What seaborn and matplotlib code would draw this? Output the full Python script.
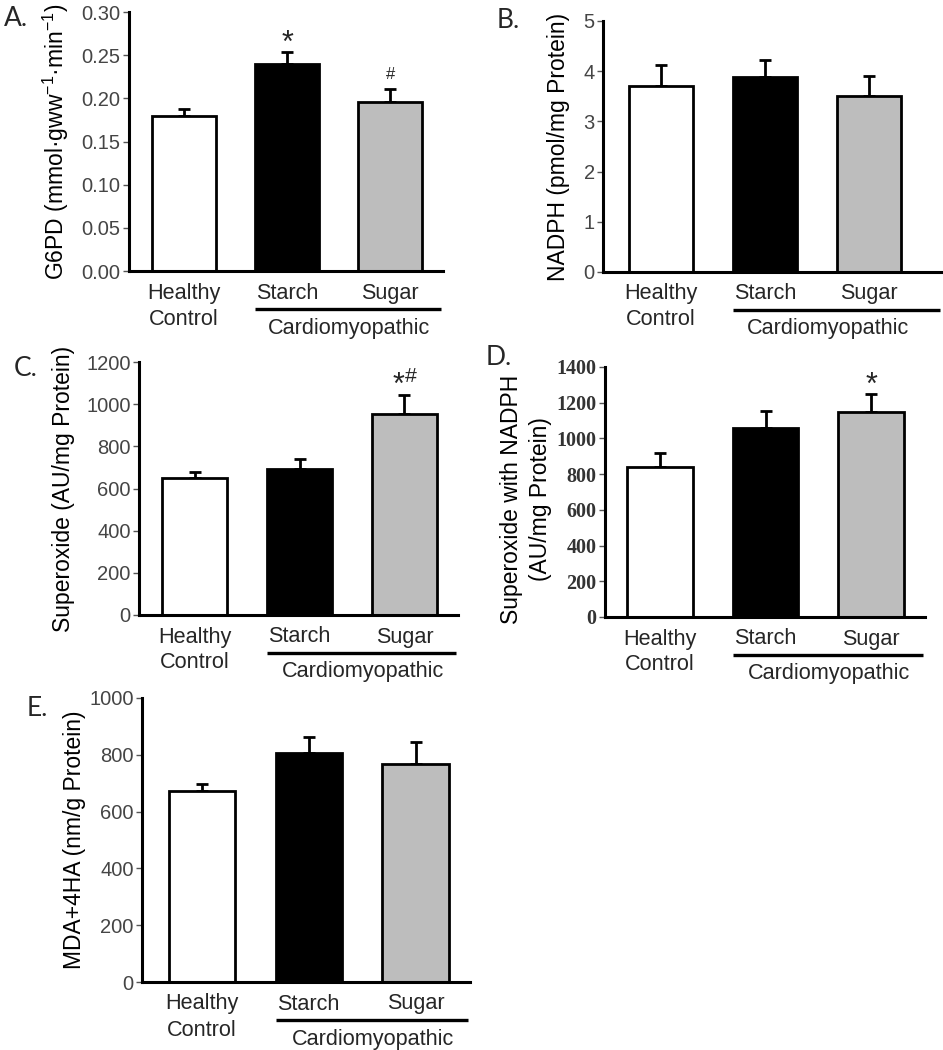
import matplotlib
matplotlib.use("Agg")
import matplotlib.pyplot as plt
from matplotlib.transforms import blended_transform_factory, ScaledTranslation
import seaborn as sns
import pandas as pd
import numpy as np

# ---------------- data ----------------
groups = ["Healthy Control", "Starch", "Sugar"]
bar_colors = ["#ffffff", "#000000", "#bdbdbd"]

g6pd_mean = [0.179, 0.240, 0.196]
g6pd_sem = [0.009, 0.014, 0.015]

nadph_mean = [3.71, 3.89, 3.51]
nadph_sem = [0.41, 0.33, 0.39]

superoxide_mean = [651, 694, 953]
superoxide_sem = [29, 46, 92]

superoxide_nadph_mean = [842, 1060, 1150]
superoxide_nadph_sem = [74, 95, 97]

mda_mean = [674, 807, 768]
mda_sem = [23, 55, 76]

sns.set_theme(style="white")
plt.rcParams["font.family"] = ["Liberation Sans", "DejaVu Sans"]
plt.rcParams["mathtext.fontset"] = "custom"
plt.rcParams["mathtext.rm"] = "Liberation Sans"
plt.rcParams["mathtext.it"] = "Liberation Sans"

fig = plt.figure(figsize=(9.43, 10.5), dpi=100)
W, H = 943, 1050

CAT_FS = 15.6
LAB_FS = 16.5


def add_ax(l, t, r, b):
    return fig.add_axes([l / W, 1 - b / H, (r - l) / W, (b - t) / H])


def panel(box, means, sems, ylim, yticks, ticklabels, ylabel, xlim, label_xy,
          letter, letter_xy, tick_font=None, notes=(), label_ls=1.1):
    ax = add_ax(*box)
    df = pd.DataFrame({"group": groups, "value": means})
    sns.barplot(data=df, x="group", y="value", hue="group", palette=bar_colors,
                legend=False, edgecolor="black", linewidth=2.0, width=0.62,
                errorbar=None, ax=ax, zorder=2)
    ax.errorbar(np.arange(len(groups)), means, yerr=[np.zeros(len(sems)), sems],
                fmt="none", ecolor="black", elinewidth=2.0, capsize=4,
                capthick=2.0, zorder=1)
    ax.set_ylim(*ylim)
    ax.set_xlim(*xlim)
    ax.set_yticks(yticks)
    ax.set_yticklabels(ticklabels)
    ax.set_xticks([])
    ax.set_xlabel("")
    for s in ["top", "right"]:
        ax.spines[s].set_visible(False)
    for s in ["left", "bottom"]:
        ax.spines[s].set_color("black")
        ax.spines[s].set_linewidth(2.2)
    ax.tick_params(axis="y", direction="out", length=4, width=1.0,
                   color="#555555", pad=2, left=True)
    for t in ax.get_yticklabels():
        if tick_font is None:
            t.set_fontsize(14.5)
            t.set_color("#454545")
        else:
            t.set_fontfamily(tick_font)
            t.set_fontweight("bold")
            t.set_fontsize(14.5)
            t.set_color("#333333")
    ax.set_ylabel(ylabel, fontsize=LAB_FS, color="black", linespacing=label_ls)
    ax.yaxis.set_label_coords(*label_xy)

    # category labels
    xy = ("data", "axes fraction")
    ax.annotate("Healthy", (0, 0), xycoords=xy, xytext=(0, -22),
                textcoords="offset pixels", ha="center", va="center", fontsize=CAT_FS)
    ax.annotate("Control", (0, 0), xycoords=xy, xytext=(0, -48),
                textcoords="offset pixels", ha="center", va="center", fontsize=CAT_FS)
    ax.annotate("Starch", (1, 0), xycoords=xy, xytext=(0, -22),
                textcoords="offset pixels", ha="center", va="center", fontsize=CAT_FS)
    ax.annotate("Sugar", (2, 0), xycoords=xy, xytext=(0, -22),
                textcoords="offset pixels", ha="center", va="center", fontsize=CAT_FS)
    ax.annotate("Cardiomyopathic", (1.6, 0), xycoords=xy, xytext=(0, -57),
                textcoords="offset pixels", ha="center", va="center", fontsize=CAT_FS)
    trans = blended_transform_factory(ax.transData, ax.transAxes) + \
        ScaledTranslation(0, -38 / 100, fig.dpi_scale_trans)
    ax.plot([0.69, xlim[1] - 0.02], [0, 0], transform=trans, color="black",
            lw=2.4, clip_on=False, solid_capstyle="butt")

    fig.text(letter_xy[0] / W, 1 - letter_xy[1] / H, letter, fontsize=19,
             family=["Lato", "DejaVu Sans"], ha="left", va="center")

    for (idx, txt, dy, fs) in notes:
        ax.annotate(txt, (idx, means[idx] + sems[idx]), xytext=(0, dy),
                    textcoords="offset pixels", ha="center", va="center",
                    fontsize=fs)
    return ax


panel((129, 12, 443, 271), g6pd_mean, g6pd_sem, (0, 0.30),
      np.arange(0, 0.31, 0.05), ["%.2f" % v for v in np.arange(0, 0.31, 0.05)],
      "G6PD (mmol·gww$^{-1}$·min$^{-1}$)", (-0.53, 2.51), (-0.185, 0.5),
      "A.", (4, 19),
      notes=[(1, "*", 8, 22), (2, "#", 14, 12)])

panel((603, 21, 942, 272), nadph_mean, nadph_sem, (0, 5),
      range(0, 6), [str(v) for v in range(0, 6)],
      "NADPH (pmol/mg Protein)", (-0.56, 2.70), (-0.097, 0.5),
      "B.", (497, 21))

panel((139, 362, 458, 615), superoxide_mean, superoxide_sem, (0, 1200),
      range(0, 1201, 200), [str(v) for v in range(0, 1201, 200)],
      "Superoxide (AU/mg Protein)", (-0.53, 2.51), (-0.20, 0.5),
      "C.", (14, 369),
      notes=[(2, "*$^{\\#}$", 10, 22)])

panel((605, 367, 925, 617), superoxide_nadph_mean, superoxide_nadph_sem, (0, 1400),
      range(0, 1401, 200), [str(v) for v in range(0, 1401, 200)],
      "Superoxide with NADPH\n(AU/mg Protein)", (-0.52, 2.51), (-0.166, 0.47),
      "D.", (486, 358), tick_font="Liberation Serif",
      notes=[(2, "*", 8, 22)], label_ls=1.35)

panel((142, 698, 470, 982), mda_mean, mda_sem, (0, 1000),
      range(0, 1001, 200), [str(v) for v in range(0, 1001, 200)],
      "MDA+4HA (nm/g Protein)", (-0.56, 2.51), (-0.172, 0.5),
      "E.", (27, 708))

fig.savefig("out.png", dpi=100, facecolor="white")
